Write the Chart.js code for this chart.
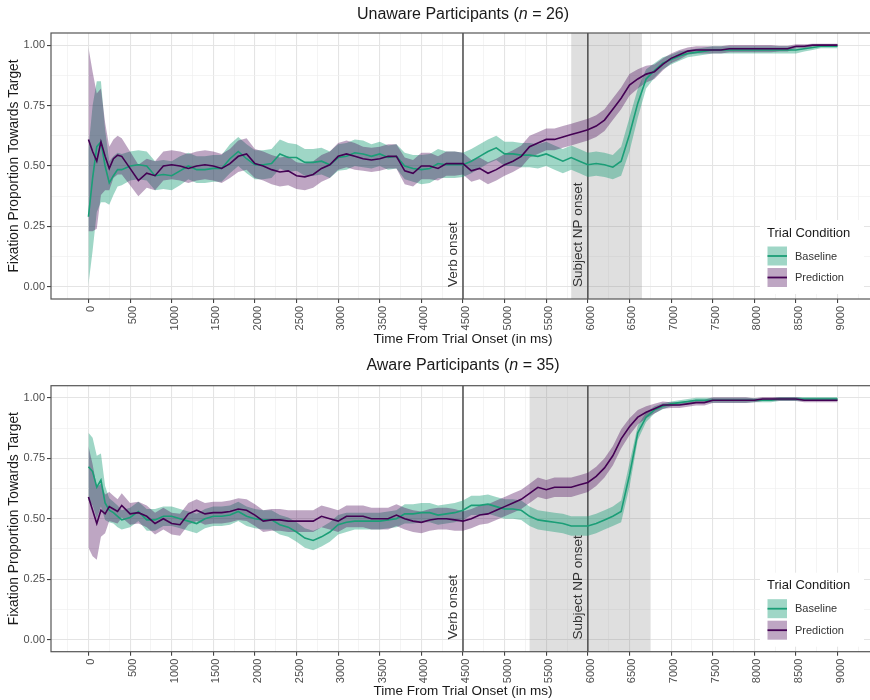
<!DOCTYPE html>
<html>
<head>
<meta charset="utf-8">
<script src="https://cdn.jsdelivr.net/npm/chart.js@4.4.0/dist/chart.umd.min.js"></script>
<style>
  html, body { margin: 0; padding: 0; background: #fff; overflow: hidden; width: 870px; height: 700px; }
  canvas { display: block; }
</style>
</head>
<body>
<canvas id="unaware" width="880" height="350"></canvas>
<canvas id="aware" width="880" height="350"></canvas>
<script>
// time bins (ms from trial onset)
const times = [0, 50, 100, 150, 200, 250, 300, 350, 400, 500, 600, 700, 800, 900,
  1000, 1100, 1200, 1300, 1400, 1500, 1600, 1700, 1800, 1900,
  2000, 2100, 2200, 2300, 2400, 2500, 2600, 2700, 2800, 2900,
  3000, 3100, 3200, 3300, 3400, 3500, 3600, 3700, 3800, 3900,
  4000, 4100, 4200, 4300, 4400, 4500, 4600, 4700, 4800, 4900,
  5000, 5100, 5200, 5300, 5400, 5500, 5600, 5700, 5800, 5900,
  6000, 6100, 6200, 6300, 6400, 6500, 6600, 6700, 6800, 6900,
  7000, 7100, 7200, 7300, 7400, 7500, 7600, 7700, 7800, 7900,
  8000, 8100, 8200, 8300, 8400, 8500, 8600, 8700, 8800, 8900,
  9000];

// Unaware participants (n = 26)
const unawareBaseline = [0.29, 0.45, 0.58, 0.60, 0.50, 0.43, 0.46, 0.485, 0.485, 0.50, 0.505, 0.50, 0.46, 0.465,
  0.46, 0.48, 0.50, 0.485, 0.485, 0.49, 0.49, 0.53, 0.56, 0.53,
  0.505, 0.505, 0.51, 0.55, 0.535, 0.535, 0.515, 0.515, 0.52, 0.505,
  0.535, 0.54, 0.555, 0.55, 0.54, 0.55, 0.535, 0.54, 0.50, 0.49,
  0.485, 0.49, 0.51, 0.505, 0.505, 0.505, 0.52, 0.54, 0.56, 0.575,
  0.55, 0.55, 0.545, 0.545, 0.54, 0.55, 0.535, 0.52, 0.535, 0.52,
  0.505, 0.51, 0.505, 0.495, 0.52, 0.63, 0.76, 0.86, 0.895, 0.925,
  0.94, 0.955, 0.965, 0.97, 0.975, 0.98, 0.98, 0.98, 0.98, 0.98,
  0.98, 0.98, 0.98, 0.98, 0.98, 0.98, 0.985, 0.99, 0.995, 0.995,
  0.995];
const unawareBaselineCI = [0.28, 0.30, 0.27, 0.25, 0.15, 0.09, 0.08, 0.07, 0.065, 0.06, 0.06, 0.06, 0.06, 0.06,
  0.06, 0.06, 0.055, 0.055, 0.055, 0.055, 0.055, 0.06, 0.06, 0.06,
  0.06, 0.06, 0.06, 0.06, 0.06, 0.055, 0.055, 0.055, 0.055, 0.055,
  0.055, 0.055, 0.055, 0.055, 0.05, 0.05, 0.05, 0.05, 0.055, 0.055,
  0.06, 0.06, 0.06, 0.055, 0.055, 0.05, 0.05, 0.05, 0.05, 0.05,
  0.05, 0.05, 0.05, 0.05, 0.05, 0.05, 0.05, 0.05, 0.05, 0.05,
  0.05, 0.05, 0.05, 0.05, 0.06, 0.07, 0.06, 0.04, 0.03, 0.025,
  0.02, 0.02, 0.015, 0.015, 0.015, 0.015, 0.015, 0.015, 0.015, 0.015,
  0.015, 0.015, 0.015, 0.015, 0.015, 0.015, 0.012, 0.01, 0.008, 0.008,
  0.008];
const unawarePrediction = [0.61, 0.56, 0.52, 0.60, 0.54, 0.49, 0.53, 0.545, 0.54, 0.49, 0.44, 0.47, 0.46, 0.50,
  0.505, 0.50, 0.49, 0.50, 0.505, 0.50, 0.49, 0.51, 0.54, 0.55,
  0.51, 0.50, 0.485, 0.475, 0.48, 0.46, 0.455, 0.465, 0.49, 0.505,
  0.54, 0.55, 0.54, 0.53, 0.525, 0.53, 0.54, 0.54, 0.48, 0.47,
  0.50, 0.50, 0.49, 0.51, 0.51, 0.51, 0.48, 0.49, 0.47, 0.485,
  0.505, 0.52, 0.54, 0.58, 0.595, 0.61, 0.61, 0.62, 0.63, 0.64,
  0.65, 0.665, 0.69, 0.735, 0.78, 0.835, 0.86, 0.88, 0.89, 0.92,
  0.945, 0.96, 0.975, 0.98, 0.98, 0.98, 0.98, 0.985, 0.985, 0.985,
  0.985, 0.985, 0.985, 0.985, 0.985, 0.995, 0.995, 1.0, 1.0, 1.0,
  1.0];
const unawarePredictionCI = [0.38, 0.33, 0.28, 0.22, 0.14, 0.09, 0.08, 0.08, 0.075, 0.07, 0.065, 0.06, 0.06, 0.06,
  0.06, 0.06, 0.06, 0.06, 0.06, 0.06, 0.06, 0.06, 0.065, 0.065,
  0.06, 0.06, 0.06, 0.06, 0.06, 0.055, 0.055, 0.055, 0.055, 0.055,
  0.055, 0.055, 0.055, 0.05, 0.05, 0.05, 0.05, 0.05, 0.055, 0.055,
  0.055, 0.055, 0.05, 0.05, 0.05, 0.045, 0.045, 0.045, 0.045, 0.045,
  0.045, 0.045, 0.045, 0.045, 0.045, 0.045, 0.045, 0.045, 0.045, 0.045,
  0.045, 0.045, 0.045, 0.045, 0.045, 0.045, 0.04, 0.035, 0.03, 0.025,
  0.02, 0.02, 0.015, 0.015, 0.015, 0.015, 0.015, 0.015, 0.015, 0.015,
  0.015, 0.015, 0.015, 0.012, 0.012, 0.008, 0.008, 0.006, 0.006, 0.006,
  0.006];

// Aware participants (n = 35)
const awareBaseline = [0.715, 0.695, 0.63, 0.66, 0.565, 0.535, 0.525, 0.51, 0.495, 0.505, 0.53, 0.495, 0.495, 0.51,
  0.51, 0.50, 0.49, 0.48, 0.50, 0.51, 0.51, 0.515, 0.53, 0.51,
  0.50, 0.495, 0.495, 0.475, 0.465, 0.445, 0.42, 0.41, 0.425, 0.445,
  0.475, 0.485, 0.49, 0.49, 0.49, 0.49, 0.495, 0.50, 0.52, 0.52,
  0.525, 0.525, 0.515, 0.52, 0.525, 0.535, 0.555, 0.555, 0.56, 0.55,
  0.54, 0.54, 0.535, 0.51, 0.495, 0.49, 0.485, 0.48, 0.47, 0.47,
  0.47, 0.48, 0.495, 0.51, 0.53, 0.68, 0.855, 0.92, 0.95, 0.965,
  0.975, 0.98, 0.985, 0.99, 0.99, 0.99, 0.99, 0.99, 0.99, 0.99,
  0.99, 0.99, 0.99, 0.995, 0.995, 0.995, 0.995, 0.995, 0.995, 0.995,
  0.995];
const awareBaselineCI = [0.14, 0.14, 0.13, 0.11, 0.07, 0.05, 0.045, 0.045, 0.04, 0.04, 0.04, 0.045, 0.045, 0.04,
  0.04, 0.04, 0.04, 0.04, 0.04, 0.04, 0.04, 0.04, 0.04, 0.04,
  0.04, 0.04, 0.04, 0.04, 0.04, 0.04, 0.04, 0.04, 0.04, 0.04,
  0.04, 0.04, 0.035, 0.035, 0.035, 0.035, 0.035, 0.035, 0.04, 0.04,
  0.04, 0.04, 0.04, 0.04, 0.04, 0.04, 0.04, 0.04, 0.04, 0.04,
  0.04, 0.04, 0.04, 0.04, 0.04, 0.04, 0.04, 0.04, 0.04, 0.04,
  0.04, 0.04, 0.04, 0.04, 0.045, 0.05, 0.03, 0.02, 0.015, 0.012,
  0.01, 0.01, 0.01, 0.01, 0.01, 0.01, 0.01, 0.01, 0.01, 0.01,
  0.008, 0.008, 0.008, 0.008, 0.008, 0.008, 0.008, 0.008, 0.008, 0.008,
  0.008];
const awarePrediction = [0.59, 0.535, 0.48, 0.535, 0.52, 0.55, 0.54, 0.53, 0.555, 0.52, 0.525, 0.51, 0.48, 0.50,
  0.48, 0.475, 0.52, 0.535, 0.52, 0.525, 0.525, 0.53, 0.54, 0.535,
  0.515, 0.49, 0.495, 0.495, 0.49, 0.49, 0.49, 0.49, 0.51, 0.50,
  0.49, 0.51, 0.51, 0.51, 0.50, 0.50, 0.50, 0.515, 0.50, 0.49,
  0.485, 0.495, 0.50, 0.50, 0.495, 0.49, 0.50, 0.515, 0.52, 0.535,
  0.55, 0.565, 0.58, 0.605, 0.63, 0.62, 0.63, 0.63, 0.63, 0.64,
  0.65, 0.675, 0.71, 0.76, 0.83, 0.88, 0.92, 0.94, 0.955, 0.97,
  0.97, 0.97, 0.975, 0.98, 0.98, 0.99, 0.99, 0.99, 0.99, 0.99,
  0.99, 0.995, 0.995, 0.995, 0.995, 0.995, 0.99, 0.99, 0.99, 0.99,
  0.99];
const awarePredictionCI = [0.21, 0.19, 0.15, 0.11, 0.08, 0.06, 0.055, 0.05, 0.05, 0.045, 0.045, 0.045, 0.045, 0.045,
  0.045, 0.045, 0.045, 0.045, 0.045, 0.045, 0.045, 0.045, 0.045, 0.045,
  0.045, 0.045, 0.045, 0.045, 0.045, 0.045, 0.045, 0.045, 0.045, 0.045,
  0.045, 0.045, 0.045, 0.045, 0.045, 0.045, 0.045, 0.045, 0.045, 0.045,
  0.045, 0.045, 0.045, 0.045, 0.045, 0.04, 0.04, 0.04, 0.04, 0.04,
  0.04, 0.04, 0.04, 0.04, 0.04, 0.04, 0.04, 0.04, 0.04, 0.04,
  0.04, 0.04, 0.04, 0.04, 0.04, 0.035, 0.03, 0.025, 0.02, 0.015,
  0.012, 0.012, 0.012, 0.012, 0.012, 0.012, 0.012, 0.012, 0.012, 0.012,
  0.008, 0.008, 0.008, 0.008, 0.008, 0.008, 0.008, 0.008, 0.008, 0.008,
  0.008];

const xMajorTicks = [0, 500, 1000, 1500, 2000, 2500, 3000, 3500, 4000, 4500, 5000, 5500, 6000, 6500, 7000, 7500, 8000, 8500, 9000];
const yMajorTicks = [0, 0.25, 0.5, 0.75, 1];
const eventTimes = [4500, 6000];
const eventLabels = ['Verb onset', 'Subject NP onset'];
const unawareShade = [5800, 6650];
const awareShade = [5300, 6750];

const FONT = "'Liberation Sans', Arial, Helvetica, sans-serif";
const GREEN = '#1b9e77';
const PURPLE = '#440154';
const GREEN_FILL = 'rgba(27,158,119,0.42)';
const PURPLE_FILL = 'rgba(68,1,84,0.35)';

function pts(vals, ci, sign) {
  return times.map((t, i) => ({ x: t, y: ci ? vals[i] + sign * ci[i] : vals[i] }));
}

// ggplot-ish extras: shaded window, event lines, labels, legend, border, title
const panelExtras = {
  id: 'panelExtras',
  beforeDatasetsDraw(chart, args, opts) {
    const { ctx, chartArea: a, scales: { x } } = chart;
    ctx.save();
    ctx.beginPath();
    ctx.rect(a.left, a.top, a.right - a.left, a.bottom - a.top);
    ctx.clip();
    const x0 = x.getPixelForValue(opts.shade[0]);
    const x1 = x.getPixelForValue(opts.shade[1]);
    ctx.fillStyle = 'rgba(140,140,140,0.28)';
    ctx.fillRect(x0, a.top, x1 - x0, a.bottom - a.top);
    ctx.strokeStyle = '#4d4d4d';
    ctx.lineWidth = 1.5;
    eventTimes.forEach(t => {
      const px = x.getPixelForValue(t);
      ctx.beginPath();
      ctx.moveTo(px, a.top);
      ctx.lineTo(px, a.bottom);
      ctx.stroke();
    });
    ctx.restore();
  },
  afterDraw(chart, args, opts) {
    const { ctx, chartArea: a, scales: { x, y } } = chart;
    ctx.save();

    // event labels, rotated
    ctx.fillStyle = '#333';
    ctx.font = '13.5px ' + FONT;
    ctx.textAlign = 'left';
    ctx.textBaseline = 'alphabetic';
    eventTimes.forEach((t, i) => {
      const px = x.getPixelForValue(t) - 6;
      const py = y.getPixelForValue(0);
      ctx.save();
      ctx.translate(px, py);
      ctx.rotate(-Math.PI / 2);
      ctx.fillText(eventLabels[i], 0, 0);
      ctx.restore();
    });

    // legend
    const b = a.bottom;
    ctx.fillStyle = '#fff';
    ctx.fillRect(760, b - 79, 104, 74);
    ctx.fillStyle = '#1a1a1a';
    ctx.font = '13px ' + FONT;
    ctx.textBaseline = 'middle';
    ctx.fillText('Trial Condition', 767, b - 66);
    const keys = [
      { label: 'Baseline', fill: GREEN_FILL, line: GREEN, top: b - 52.5 },
      { label: 'Prediction', fill: PURPLE_FILL, line: PURPLE, top: b - 31 }
    ];
    keys.forEach(k => {
      ctx.fillStyle = k.fill;
      ctx.fillRect(767.5, k.top, 19.5, 19);
      ctx.strokeStyle = k.line;
      ctx.lineWidth = 1.8;
      ctx.beginPath();
      ctx.moveTo(767.5, k.top + 9.5);
      ctx.lineTo(787, k.top + 9.5);
      ctx.stroke();
      ctx.fillStyle = '#333';
      ctx.font = '11px ' + FONT;
      ctx.fillText(k.label, 795, k.top + 10);
    });

    // panel border
    ctx.strokeStyle = '#555';
    ctx.lineWidth = 1.2;
    ctx.strokeRect(a.left, a.top, a.right - a.left, a.bottom - a.top);

    // title with italic n
    const parts = [
      { t: opts.title + ' (', f: '16px ' + FONT },
      { t: 'n', f: 'italic 16px ' + FONT },
      { t: ' = ' + opts.n + ')', f: '16px ' + FONT }
    ];
    let w = 0;
    parts.forEach(p => { ctx.font = p.f; p.w = ctx.measureText(p.t).width; w += p.w; });
    let tx = (a.left + a.right) / 2 - w / 2;
    ctx.fillStyle = '#1a1a1a';
    ctx.textAlign = 'left';
    ctx.textBaseline = 'middle';
    parts.forEach(p => { ctx.font = p.f; ctx.fillText(p.t, tx, opts.titleY); tx += p.w; });
    ctx.restore();
  }
};

function makePanel(id, title, n, baseline, baselineCI, prediction, predictionCI, shade, padTop, axisH, titleY) {
  const ctx = document.getElementById(id).getContext('2d');
  const xAll = [];
  xMajorTicks.forEach(v => { xAll.push(v - 250, v); });
  xAll.push(9250);
  const yAll = [];
  yMajorTicks.forEach((v, i) => { yAll.push(v); if (i < yMajorTicks.length - 1) yAll.push(v + 0.125); });
  const isMajorX = v => xMajorTicks.includes(v);
  const isMajorY = v => yMajorTicks.some(m => Math.abs(m - v) < 1e-9);

  return new Chart(ctx, {
    type: 'line',
    data: {
      datasets: [
        { label: 'Prediction', data: pts(prediction), borderColor: PURPLE, borderWidth: 1.6, pointRadius: 0, fill: false, tension: 0 },
        { label: 'Baseline', data: pts(baseline), borderColor: GREEN, borderWidth: 1.6, pointRadius: 0, fill: false, tension: 0 },
        { label: 'pu', data: pts(prediction, predictionCI, 1), borderWidth: 0, pointRadius: 0, backgroundColor: PURPLE_FILL, fill: '+1' },
        { label: 'pl', data: pts(prediction, predictionCI, -1), borderWidth: 0, pointRadius: 0, fill: false },
        { label: 'bu', data: pts(baseline, baselineCI, 1), borderWidth: 0, pointRadius: 0, backgroundColor: GREEN_FILL, fill: '+1' },
        { label: 'bl', data: pts(baseline, baselineCI, -1), borderWidth: 0, pointRadius: 0, fill: false }
      ]
    },
    options: {
      responsive: false,
      animation: false,
      layout: { padding: { top: padTop, left: 0, right: 5, bottom: 0 } },
      plugins: {
        legend: { display: false },
        tooltip: { enabled: false },
        panelExtras: { shade: shade, title: title, n: n, titleY: titleY }
      },
      scales: {
        x: {
          type: 'linear',
          min: -450,
          max: 9450,
          afterBuildTicks: s => { s.ticks = xAll.map(v => ({ value: v })); },
          afterFit: s => { s.height = axisH; },
          ticks: {
            autoSkip: false,
            minRotation: 90,
            maxRotation: 90,
            padding: 3,
            labelOffset: 3,
            color: '#4d4d4d',
            font: { family: FONT, size: 11 },
            callback: v => (isMajorX(v) ? String(v) : '')
          },
          grid: {
            color: c => (isMajorX(c.tick.value) ? '#e4e4e4' : '#efefef'),
            lineWidth: c => (isMajorX(c.tick.value) ? 1.1 : 0.7),
            tickColor: c => (isMajorX(c.tick.value) ? '#444' : 'rgba(0,0,0,0)'),
            tickLength: 4
          },
          border: { display: false },
          title: {
            display: true,
            text: 'Time From Trial Onset (in ms)',
            color: '#1a1a1a',
            font: { family: FONT, size: 13.5 },
            padding: { top: 0, bottom: axisH - 48 }
          }
        },
        y: {
          type: 'linear',
          min: -0.05,
          max: 1.05,
          afterBuildTicks: s => { s.ticks = yAll.map(v => ({ value: v })); },
          afterFit: s => { s.width = 51; },
          ticks: {
            padding: 2,
            color: '#4d4d4d',
            font: { family: FONT, size: 11 },
            callback: v => (isMajorY(v) ? v.toFixed(2) : '')
          },
          grid: {
            color: c => (isMajorY(c.tick.value) ? '#e4e4e4' : '#efefef'),
            lineWidth: c => (isMajorY(c.tick.value) ? 1.1 : 0.7),
            tickColor: c => (isMajorY(c.tick.value) ? '#444' : 'rgba(0,0,0,0)'),
            tickLength: 4
          },
          border: { display: false },
          title: {
            display: true,
            text: 'Fixation Proportion Towards Target',
            color: '#1a1a1a',
            font: { family: FONT, size: 13.8 },
            padding: { top: 6, bottom: 0 }
          }
        }
      }
    },
    plugins: [panelExtras]
  });
}

makePanel('unaware', 'Unaware Participants', 26, unawareBaseline, unawareBaselineCI, unawarePrediction, unawarePredictionCI, unawareShade, 33, 51, 15);
makePanel('aware', 'Aware Participants', 35, awareBaseline, awareBaselineCI, awarePrediction, awarePredictionCI, awareShade, 35.7, 48.3, 16);
</script>
</body>
</html>
